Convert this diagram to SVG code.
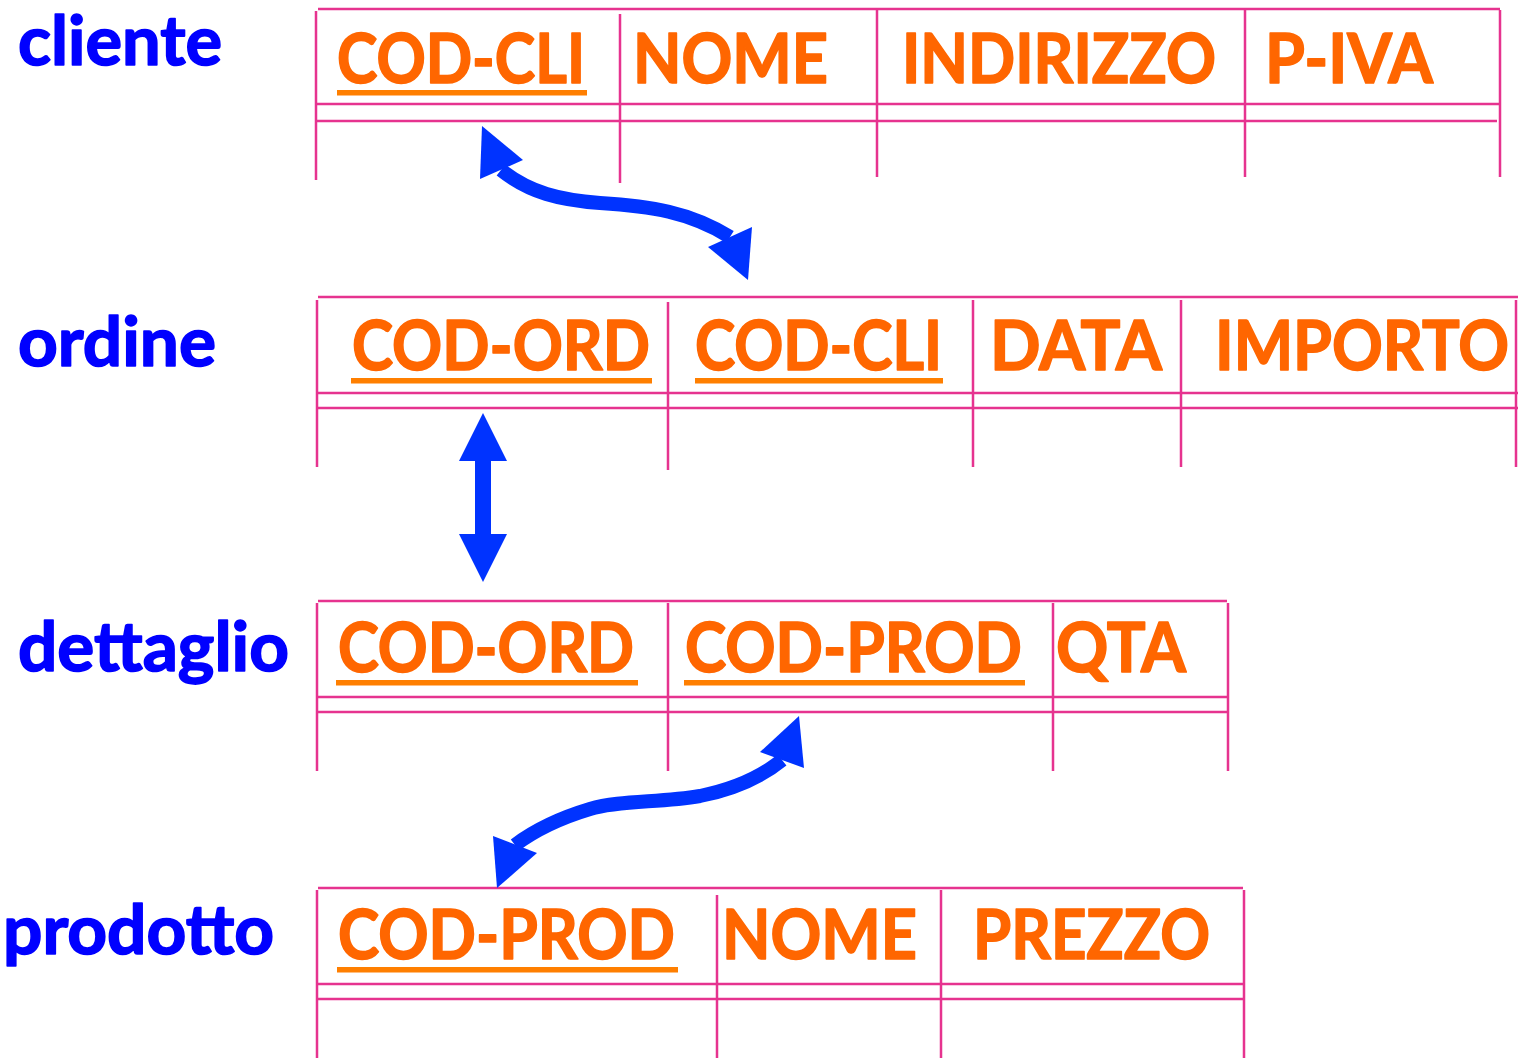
<svg xmlns="http://www.w3.org/2000/svg" width="1518" height="1058" viewBox="0 0 1518 1058">
  <style>
    .grid { stroke: #E6338F; stroke-width: 2.5; fill: none; stroke-linecap: butt; }
    .name { font-family: Lato, "Open Sans", "Liberation Sans", sans-serif; font-weight: bold; font-size: 68px; fill: #0000FF; stroke: #0000FF; stroke-width: 1.6; stroke-linejoin: round; }
    .attr { font-family: Lato, "Open Sans", "Liberation Sans", sans-serif; font-weight: bold; font-size: 68px; fill: #FF6600; stroke: #FF6600; stroke-width: 1.6; stroke-linejoin: round; }
    .key { fill: #FF7F00; }
    .shaft { fill: none; stroke: #0033FF; stroke-width: 14; stroke-linejoin: round; }
    .head { fill: #0033FF; }
  </style>

  <!-- cliente -->
  <g id="cliente">
    <text class="name" x="18" y="65" textLength="204" lengthAdjust="spacingAndGlyphs">cliente</text>
    <path class="grid" d="M318 9H1500 M316 104H1500 M316 121H1497 M316 11V180 M620 14V183 M877 10V177 M1245 10V177 M1500 10V177"/>
    <text class="attr" x="337" y="83" textLength="248" lengthAdjust="spacingAndGlyphs">COD-CLI</text>
    <rect class="key" x="337" y="90" width="250" height="5.5"/>
    <text class="attr" x="633" y="83" textLength="195" lengthAdjust="spacingAndGlyphs">NOME</text>
    <text class="attr" x="902" y="83" textLength="314" lengthAdjust="spacingAndGlyphs">INDIRIZZO</text>
    <text class="attr" x="1265" y="83" textLength="168" lengthAdjust="spacingAndGlyphs">P-IVA</text>
  </g>

  <!-- ordine -->
  <g id="ordine">
    <text class="name" x="18" y="366" textLength="198" lengthAdjust="spacingAndGlyphs">ordine</text>
    <path class="grid" d="M318 297H1518 M317 393H1518 M317 408H1518 M317 300V467 M668 302V470 M973 300V467 M1181 300V467 M1516 300V467"/>
    <text class="attr" x="352" y="370" textLength="298" lengthAdjust="spacingAndGlyphs">COD-ORD</text>
    <rect class="key" x="351" y="378" width="301" height="5.5"/>
    <text class="attr" x="695" y="370" textLength="247" lengthAdjust="spacingAndGlyphs">COD-CLI</text>
    <rect class="key" x="695" y="378" width="248" height="5.5"/>
    <text class="attr" x="990" y="370" textLength="172" lengthAdjust="spacingAndGlyphs">DATA</text>
    <text class="attr" x="1215" y="370" textLength="294" lengthAdjust="spacingAndGlyphs">IMPORTO</text>
  </g>

  <!-- dettaglio -->
  <g id="dettaglio">
    <text class="name" x="18" y="671" textLength="271" lengthAdjust="spacingAndGlyphs">dettaglio</text>
    <path class="grid" d="M318 601H1227 M317 697H1228 M317 712H1228 M317 603V771 M668 603V771 M1053 603V771 M1228 603V771"/>
    <text class="attr" x="338" y="672" textLength="296" lengthAdjust="spacingAndGlyphs">COD-ORD</text>
    <rect class="key" x="336" y="680" width="302" height="5.5"/>
    <text class="attr" x="685" y="672" textLength="337" lengthAdjust="spacingAndGlyphs">COD-PROD</text>
    <rect class="key" x="684" y="680" width="341" height="5.5"/>
    <text class="attr" x="1056" y="672" textLength="130" lengthAdjust="spacingAndGlyphs">QTA</text>
  </g>

  <!-- prodotto -->
  <g id="prodotto">
    <text class="name" x="3" y="954" textLength="271" lengthAdjust="spacingAndGlyphs">prodotto</text>
    <path class="grid" d="M318 888H1243 M317 984H1244 M317 999H1244 M317 890V1058 M717 895V1058 M941 890V1058 M1244 890V1058"/>
    <text class="attr" x="338" y="959" textLength="337" lengthAdjust="spacingAndGlyphs">COD-PROD</text>
    <rect class="key" x="337" y="967" width="341" height="5.5"/>
    <text class="attr" x="722" y="959" textLength="195" lengthAdjust="spacingAndGlyphs">NOME</text>
    <text class="attr" x="973" y="959" textLength="237" lengthAdjust="spacingAndGlyphs">PREZZO</text>
  </g>

  <!-- relationships -->
  <g id="connectors">
    <!-- cliente.COD-CLI <-> ordine.COD-CLI -->
    <path class="shaft" d="M501 170 C530 193 560 200 600 203 C650 206 690 212 730 237"/>
    <polygon class="head" points="482,126 523,160 480,179"/>
    <polygon class="head" points="748,280 708,247 752,227"/>

    <!-- ordine.COD-ORD <-> dettaglio.COD-ORD -->
    <polygon class="head" points="483,413 507,461 491,461 491,534 507,534 483,582 459,534 475,534 475,461 459,461"/>

    <!-- dettaglio.COD-PROD <-> prodotto.COD-PROD -->
    <path class="shaft" d="M782 760 C760 778 730 790 700 796 C660 803 620 800 590 809 C560 818 535 830 515 845"/>
    <polygon class="head" points="799,716 804,768 760,752"/>
    <polygon class="head" points="497,888 493,836 537,853"/>
  </g>
</svg>
